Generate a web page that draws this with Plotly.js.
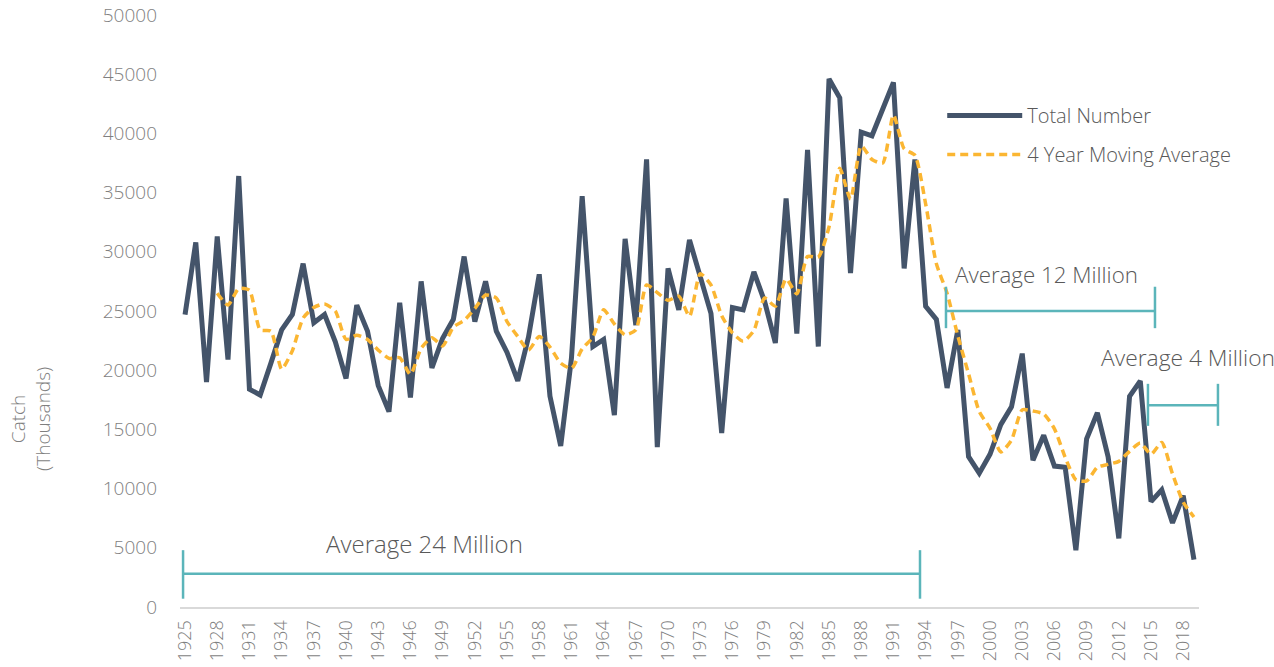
<!DOCTYPE html>
<html>
<head>
<meta charset="utf-8">
<script src="https://cdn.plot.ly/plotly-3.0.1.min.js"></script>
<style>
  html, body { margin: 0; padding: 0; background: #ffffff; }
  #chart { width: 1274px; height: 667px; }
</style>
</head>
<body>
<div id="chart"></div>
<script>
var years = [1925,1926,1927,1928,1929,1930,1931,1932,1933,1934,1935,1936,1937,1938,1939,
  1940,1941,1942,1943,1944,1945,1946,1947,1948,1949,1950,1951,1952,1953,1954,
  1955,1956,1957,1958,1959,1960,1961,1962,1963,1964,1965,1966,1967,1968,1969,
  1970,1971,1972,1973,1974,1975,1976,1977,1978,1979,1980,1981,1982,1983,1984,
  1985,1986,1987,1988,1989,1990,1991,1992,1993,1994,1995,1996,1997,1998,1999,
  2000,2001,2002,2003,2004,2005,2006,2007,2008,2009,2010,2011,2012,2013,2014,
  2015,2016,2017,2018,2019];

var totalNumber = [24700,30800,19000,31300,20900,36400,18400,17900,20600,23400,24700,29000,24000,24700,22400,
  19300,25500,23300,18700,16500,25700,17700,27500,20200,22700,24300,29600,24100,27500,23300,
  21500,19100,22800,28100,17800,13600,21000,34700,22000,22600,16200,31100,23800,37800,13500,
  28600,25100,31000,27900,24800,14700,25300,25100,28300,25800,22300,34500,23100,38600,22000,
  44600,43000,28200,40100,39800,42000,44300,28600,37800,25400,24300,18500,23400,12700,11300,
  12900,15400,16900,21400,12400,14500,11900,11800,4800,14200,16400,12700,5800,17800,19100,
  8900,9900,7100,9400,4000];

var movingAverage = [null,null,null,26500,25500,26900,26750,23400,23300,20100,21650,24400,25300,25600,25000,
  22600,22950,22600,21700,21000,21050,19650,21850,22750,22050,23650,24200,25200,26350,26100,
  24100,22850,21700,22850,21950,20600,20150,21800,22800,25100,23900,23000,23400,27200,26550,
  25900,26250,24550,28150,27200,24600,23150,22450,23350,26100,25400,27700,26450,29600,29550,
  32100,37050,34450,38950,37800,37500,41550,38700,38150,34050,29000,26500,22900,19700,16500,
  15100,13100,14100,16650,16550,16300,15050,12650,10750,10650,11800,12050,12300,13150,13850,
  12900,13900,11250,8850,7600];

var tickYears = [1925,1928,1931,1934,1937,1940,1943,1946,1949,1952,1955,1958,1961,1964,1967,
  1970,1973,1976,1979,1982,1985,1988,1991,1994,1997,2000,2003,2006,2009,2012,2015,2018];
var tickLabels = tickYears.map(String);

var yTicks = [0,5000,10000,15000,20000,25000,30000,35000,40000,45000,50000];

var seriesNames = ["Total Number", "4 Year Moving Average"];
var bracketLabels = ["Average 24 Million", "Average 12 Million", "Average 4 Million"];

var FONT = '"Open Sans", "Segoe UI", sans-serif';
var TEAL = '#5bb5ba';

var traces = [
  {
    x: years, y: totalNumber, type: 'scatter', mode: 'lines',
    name: seriesNames[0], legendgroup: 'a',
    line: { color: '#44546a', width: 5, shape: 'linear' },
    hoverinfo: 'x+y'
  },
  {
    x: years, y: movingAverage, type: 'scatter', mode: 'lines',
    name: seriesNames[1], legendgroup: 'b', connectgaps: false,
    line: { color: '#fbb632', width: 3.5, dash: '8px,5px', shape: 'spline', smoothing: 0.6 },
    hoverinfo: 'x+y'
  }
];

function bracket(x0, x1, yv, ylo, yhi) {
  var s = { type: 'line', xref: 'paper', yref: 'y', line: { color: TEAL, width: 2.5 }, layer: 'above' };
  return [
    Object.assign({}, s, { x0: x0, x1: x1, y0: yv, y1: yv }),
    Object.assign({}, s, { x0: x0, x1: x0, y0: ylo, y1: yhi }),
    Object.assign({}, s, { x0: x1, x1: x1, y0: ylo, y1: yhi })
  ];
}

var shapes = []
  .concat(bracket(0.003, 0.7262, 2800, 700, 4800))
  .concat(bracket(0.7517, 0.9568, 25000, 23550, 27050))
  .concat(bracket(0.9499, 1.0186, 17050, 15300, 18850));

function label(text, xp, yv, size) {
  return {
    text: text, xref: 'paper', yref: 'y', x: xp, y: yv,
    showarrow: false, xanchor: 'center', yanchor: 'middle',
    font: { family: FONT, size: size, color: '#595959', weight: 300 }
  };
}

var annotations = [
  label(bracketLabels[0], 0.2404, 5400, 24),
  label(bracketLabels[1], 0.8508, 28050, 22.3),
  label(bracketLabels[2], 0.9892, 21100, 22.8),
  {
    text: 'Catch<br>(Thousands)', xref: 'paper', yref: 'paper',
    x: -0.146, y: 0.318, showarrow: false, textangle: -90,
    xanchor: 'center', yanchor: 'middle', align: 'center',
    font: { family: FONT, size: 19, color: '#7f7f7f', weight: 300 }
  }
];

var layout = {
  width: 1274, height: 667,
  margin: { l: 180, r: 75, t: 15, b: 60 },
  paper_bgcolor: '#ffffff', plot_bgcolor: '#ffffff',
  font: { family: FONT, color: '#7f7f7f' },
  showlegend: true,
  legend: {
    x: 0.748, y: 0.863, xanchor: 'left', yanchor: 'top',
    font: { family: FONT, size: 20, color: '#595959', weight: 300 },
    bgcolor: 'rgba(0,0,0,0)', itemwidth: 75, tracegroupgap: 10,
    traceorder: 'grouped'
  },
  xaxis: {
    type: 'linear', range: [1924.53, 2019.47],
    tickmode: 'array', tickvals: tickYears, ticktext: tickLabels,
    tickangle: -90, ticks: '', ticklabelstandoff: 4,
    tickfont: { family: FONT, size: 18, color: '#7f7f7f', weight: 300 },
    showgrid: false, zeroline: false,
    showline: true, linecolor: '#d9d9d9', linewidth: 2,
    fixedrange: true
  },
  yaxis: {
    range: [0, 50000], tickmode: 'array', tickvals: yTicks,
    ticktext: yTicks.map(String),
    ticks: '', ticklabelstandoff: 22,
    tickfont: { family: FONT, size: 19, color: '#7f7f7f', weight: 300 },
    showgrid: false, zeroline: false, showline: false,
    fixedrange: true
  },
  shapes: shapes,
  annotations: annotations
};

Plotly.newPlot('chart', traces, layout, { displayModeBar: false, staticPlot: true });
</script>
</body>
</html>
